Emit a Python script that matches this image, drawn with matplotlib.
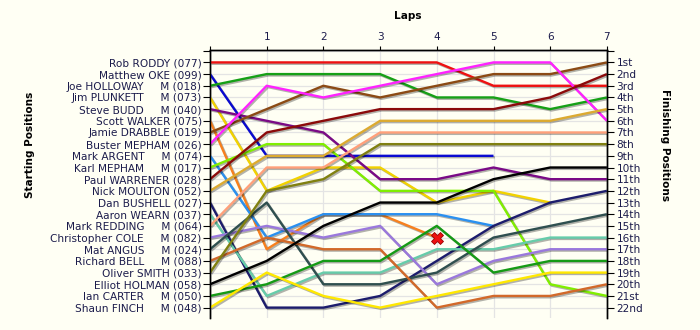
import matplotlib
matplotlib.use('Agg')
import matplotlib.pyplot as plt
import matplotlib.patheffects as pe
import numpy as np

N = np.nan
laps = [0, 1, 2, 3, 4, 5, 6, 7]

drivers = ['Rob RODDY', 'Matthew OKE', 'Joe HOLLOWAY', 'Jim PLUNKETT', 'Steve BUDD',
           'Scott WALKER', 'Jamie DRABBLE', 'Buster MEPHAM', 'Mark ARGENT', 'Karl MEPHAM',
           'Paul WARRENER', 'Nick MOULTON', 'Dan BUSHELL', 'Aaron WEARN', 'Mark REDDING',
           'Christopher COLE', 'Mat ANGUS', 'Richard BELL', 'Oliver SMITH', 'Elliot HOLMAN',
           'Ian CARTER', 'Shaun FINCH']
car_numbers = ['077', '099', '018', '073', '040', '075', '019', '026', '074', '017', '028',
               '052', '027', '037', '064', '082', '024', '088', '033', '058', '050', '048']
m_class = [0, 0, 1, 1, 1, 0, 0, 0, 1, 1, 0, 0, 0, 0, 1, 1, 1, 1, 0, 0, 1, 1]

# position at the end of each lap (lap 0 = grid)
positions = [
    [1, 1, 1, 1, 1, 3, 3, 3],
    [2, 9, 9, 9, 9, 9, N, N],
    [3, 2, 2, 2, 4, 4, 5, 4],
    [4, 12, 10, 10, 13, 12, 13, N],
    [5, 6, 7, 11, 11, 10, 11, 11],
    [6, 17, 14, 14, 16, N, N, N],
    [7, 5, 3, 4, 3, 2, 2, 1],
    [8, 3, 4, 3, 2, 1, 1, 6],
    [9, 16, 14, 14, 14, 15, N, N],
    [10, 8, 8, 12, 12, 12, 20, 21],
    [11, 7, 6, 5, 5, 5, 4, 2],
    [12, 9, 9, 6, 6, 6, 6, 5],
    [13, 22, 22, 21, 18, 15, 13, 12],
    [14, 21, 19, 19, 17, 17, 16, 16],
    [15, 10, 10, 7, 7, 7, 7, 7],
    [16, 15, 16, 15, 20, 18, 17, 17],
    [17, 13, 20, 20, 19, 16, 15, 14],
    [18, 16, 17, 17, 22, 21, 21, 20],
    [19, 12, 11, 8, 8, 8, 8, 8],
    [20, 18, 15, 13, 13, 11, 10, 10],
    [21, 20, 18, 18, 15, 19, 18, 18],
    [22, 19, 21, 22, 21, 20, 19, 19],
]
crash_driver = 5
crash_lap = 4

finish_labels = ['1st', '2nd', '3rd'] + ['%dth' % i for i in range(4, 21)] + ['21st', '22nd']

colors = ['#ee1111', '#0a0ad0', '#16a016', '#f2d200', '#7a0a86', '#f7801e', '#8b4a14',
          '#ff22ff', '#2a90f0', '#80ee00', '#8b0a0a', '#dcaa30', '#1c1c6c', '#66ccaa',
          '#ffa07a', '#9a78dc', '#2f4f4f', '#d2692a', '#808010', '#000000', '#159a15',
          '#ffe800']

bg = '#fffff4'
ink = '#1c1c4c'

fig = plt.figure(figsize=(7, 3.3), dpi=100, facecolor=bg)
ax = fig.add_axes([0.3, 0.036, 0.567, 0.812], facecolor=bg)

for i in range(len(drivers)):
    ax.plot(laps, positions[i], color=colors[i], lw=1.7, solid_capstyle='butt',
            path_effects=[pe.SimpleLineShadow(offset=(1, -1), shadow_color='k', alpha=0.3),
                          pe.Normal()], zorder=3)

ax.plot(crash_lap, positions[crash_driver][crash_lap], marker='X', ms=8, color='#ee1111',
        mec='#990000', mew=0.6, zorder=5)

ax.set_xlim(0, 7)
ax.set_ylim(22.9, -0.05)

ax.grid(True, color='#e4e4e4', lw=0.9, zorder=0)
ax.set_axisbelow(True)

# top axis with laps
ax.xaxis.tick_top()
ax.set_xticks(laps)
ax.set_xticklabels([''] + [str(l) for l in laps[1:]], fontsize=7.6, color=ink)
ax.tick_params(axis='x', length=3, pad=3)
fig.text(0.583, 0.952, 'Laps', ha='center', va='center', fontsize=7.6, fontweight='bold')

# left axis with starting grid
start_labels = ['']
for name, num, m in zip(drivers, car_numbers, m_class):
    if m:
        start_labels.append('%s     M (%s)' % (name, num))
    else:
        start_labels.append('%s (%s)' % (name, num))
ax.set_yticks(range(0, 23))
ax.set_yticklabels(start_labels, fontsize=7.6, color=ink)
ax.tick_params(axis='y', length=5, pad=1, color='k')

ax2 = ax.twinx()
ax2.set_ylim(ax.get_ylim())
ax2.set_yticks(range(0, 23))
ax2.set_yticklabels([''] + finish_labels, fontsize=7.6, color=ink)
ax2.tick_params(axis='y', length=5, pad=2)

for a in (ax, ax2):
    a.spines['bottom'].set_visible(False)
    for s in ('left', 'right', 'top'):
        a.spines[s].set_color('k')
        a.spines[s].set_linewidth(1)

fig.text(0.043, 0.56, 'Starting Positions', rotation=90, ha='center', va='center',
         fontsize=7.6, fontweight='bold')
fig.text(0.95, 0.56, 'Finishing Positions', rotation=270, ha='center', va='center',
         fontsize=7.6, fontweight='bold')

fig.savefig('out.png', dpi=100, facecolor=bg)
